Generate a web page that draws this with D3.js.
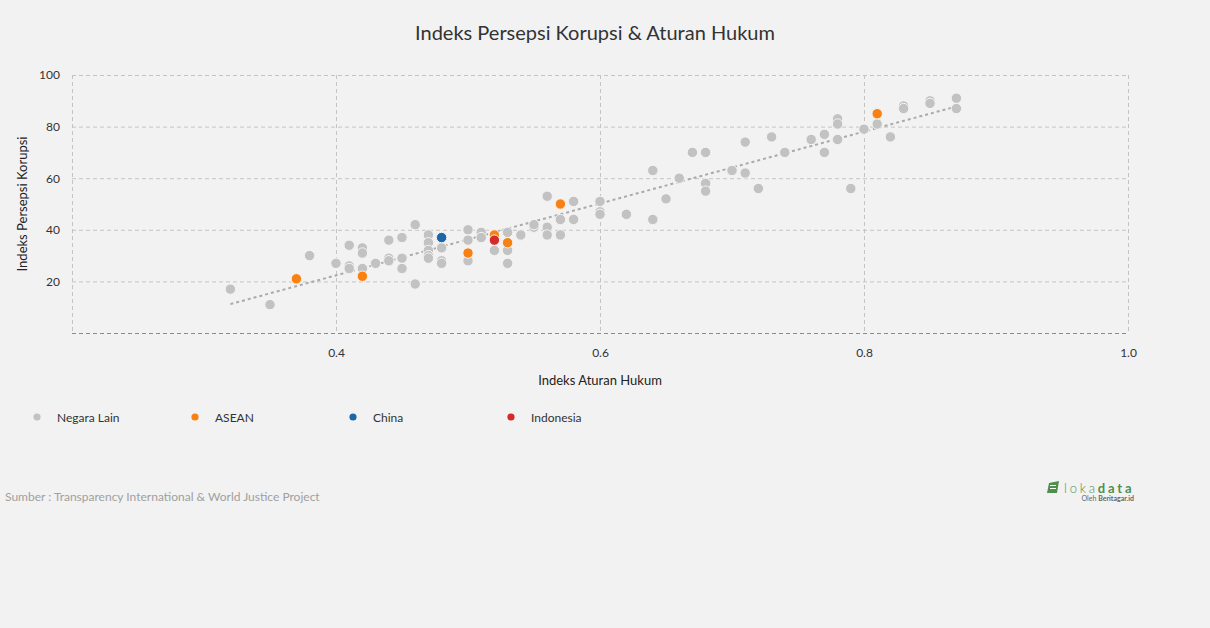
<!DOCTYPE html>
<html><head><meta charset="utf-8">
<script src="https://cdn.jsdelivr.net/npm/d3@7"></script>
<style>
html,body{margin:0;padding:0;background:#f2f2f2;}
svg{display:block;font-family:Lato,"Open Sans",sans-serif;}
</style></head>
<body>
<svg id="chart" width="1210" height="628"></svg>
<script>
// ---- data ----
const title = "Indeks Persepsi Korupsi & Aturan Hukum";
const xTitle = "Indeks Aturan Hukum";
const yTitle = "Indeks Persepsi Korupsi";
const xTicks = [0.4, 0.6, 0.8, 1.0];
const yTicks = [20, 40, 60, 80, 100];
const seriesNames = ["Negara Lain", "ASEAN", "China", "Indonesia"];
const seriesColors = ["#c2c2c2", "#f98012", "#1f66a6", "#d42a2a"];
// [Indeks Aturan Hukum, Indeks Persepsi Korupsi]
const negaraLain = [
  [0.32,17],[0.35,11],[0.38,30],[0.40,27],[0.41,34],[0.41,26],[0.41,25],
  [0.42,33],[0.42,31],[0.42,25],[0.43,27],[0.44,36],[0.44,29],[0.44,28],
  [0.45,37],[0.45,29],[0.45,25],[0.46,42],[0.46,19],[0.47,38],[0.47,35],
  [0.47,32],[0.47,30],[0.47,29],[0.48,33],[0.48,28],[0.48,27],[0.50,40],
  [0.50,36],[0.50,28],[0.51,39],[0.51,37],[0.52,32],[0.53,39],[0.53,32],
  [0.53,27],[0.54,38],[0.55,41],[0.55,42],[0.56,53],[0.56,41],[0.56,38],
  [0.57,44],[0.57,38],[0.58,51],[0.58,44],[0.60,51],[0.60,47],[0.60,46],
  [0.62,46],[0.64,63],[0.64,44],[0.65,52],[0.66,60],[0.67,70],[0.68,70],
  [0.68,58],[0.68,55],[0.70,63],[0.71,74],[0.71,62],[0.72,56],[0.73,76],
  [0.74,70],[0.76,75],[0.77,77],[0.77,70],[0.78,83],[0.78,81],[0.78,75],
  [0.79,56],[0.80,79],[0.81,81],[0.82,76],[0.83,88],[0.83,87],[0.85,90],
  [0.85,89],[0.87,91],[0.87,87]
];
const asean = [[0.37,21],[0.42,22],[0.50,31],[0.52,38],[0.53,35],[0.57,50],[0.81,85]];
const china = [[0.48,37]];
const indonesia = [[0.52,36]];
const trend = [[0.32,11.2],[0.87,87.8]];
const source = "Sumber : Transparency International & World Justice Project";

// ---- layout ----
const svg = d3.select("#chart");
const L = 72, R = 1128, T = 75, B = 333;
const x = d3.scaleLinear().domain([0.2, 1.0]).range([L, R]);
const y = d3.scaleLinear().domain([0, 100]).range([B, T]);

svg.append("text").attr("x", 595).attr("y", 40).attr("text-anchor", "middle")
  .attr("font-size", 20).attr("fill", "#333").text(title);

// grid
const g = svg.append("g");
g.selectAll(".hg").data(yTicks).join("line")
  .attr("x1", L).attr("x2", R).attr("y1", d => y(d) + 0.5).attr("y2", d => y(d) + 0.5)
  .attr("stroke", "#c4c4c4").attr("stroke-dasharray", "4,3");
g.selectAll(".vg").data([0.2].concat(xTicks)).join("line")
  .attr("y1", T).attr("y2", B).attr("x1", d => Math.round(x(d)) + 0.5).attr("x2", d => Math.round(x(d)) + 0.5)
  .attr("stroke", "#c4c4c4").attr("stroke-dasharray", "4,3");
g.append("line").attr("x1", L).attr("x2", R).attr("y1", B + 0.5).attr("y2", B + 0.5)
  .attr("stroke", "#8a8a8a").attr("stroke-dasharray", "4,3");

// axes labels via d3 axes
const xAxis = svg.append("g").attr("transform", `translate(0,${B})`)
  .call(d3.axisBottom(x).tickValues(xTicks).tickFormat(d3.format(".1f")).tickSize(0).tickPadding(15));
const yAxis = svg.append("g").attr("transform", `translate(${L},0)`)
  .call(d3.axisLeft(y).tickValues(yTicks).tickSize(0).tickPadding(12));
[xAxis, yAxis].forEach(a => {
  a.select(".domain").remove();
  a.selectAll("text").attr("font-family", "Lato, sans-serif").attr("font-size", 12).attr("fill", "#333");
});

svg.append("text").attr("x", 600).attr("y", 385).attr("text-anchor", "middle")
  .attr("font-size", 13).attr("fill", "#222").text(xTitle);
svg.append("text").attr("transform", "translate(27,204) rotate(-90)").attr("text-anchor", "middle")
  .attr("font-size", 13).attr("fill", "#222").text(yTitle);

// trend line
svg.append("path").datum(trend)
  .attr("d", d3.line().x(d => x(d[0])).y(d => y(d[1])))
  .attr("fill", "none").attr("stroke", "#aaaaaa").attr("stroke-width", 2).attr("stroke-dasharray", "3,3");

// points
const allSeries = [negaraLain, asean, china, indonesia];
allSeries.forEach((s, i) => {
  svg.append("g").selectAll("circle").data(s).join("circle")
    .attr("cx", d => x(d[0])).attr("cy", d => y(d[1])).attr("r", 5.2)
    .attr("fill", seriesColors[i]).attr("stroke", "#f4f4f4").attr("stroke-width", 1);
});

// legend
const lg = svg.append("g");
seriesNames.forEach((n, i) => {
  const lx = 37 + i * 158;
  lg.append("circle").attr("cx", lx).attr("cy", 417).attr("r", 3.6).attr("fill", seriesColors[i]);
  lg.append("text").attr("x", lx + 20).attr("y", 421.5).attr("font-size", 12).attr("fill", "#333").text(n);
});

// source
svg.append("text").attr("x", 5).attr("y", 501).attr("font-size", 12).attr("fill", "#a0a0a0").text(source);

// logo
const logo = svg.append("g").attr("transform", "translate(1047,481)");
logo.append("path").attr("d", "M2,2 L12,0 L10,12 L0,12 Z").attr("fill", "#4e8f4e");
logo.append("line").attr("x1", 3).attr("x2", 9).attr("y1", 4.5).attr("y2", 4.5).attr("stroke", "#fff").attr("stroke-width", 1);
logo.append("line").attr("x1", 3).attr("x2", 9).attr("y1", 7.5).attr("y2", 7.5).attr("stroke", "#fff").attr("stroke-width", 1);
const lt = logo.append("text").attr("x", 17).attr("y", 11.5).attr("font-size", 13).attr("fill", "#4e8f4e").attr("letter-spacing", 2.8);
lt.append("tspan").attr("font-weight", 300).text("loka");
lt.append("tspan").attr("font-weight", 700).text("data");
const sub = logo.append("text").attr("x", 87).attr("y", 20).attr("text-anchor", "end").attr("font-size", 7).attr("fill", "#666");
sub.append("tspan").text("Oleh ");
sub.append("tspan").attr("font-weight", 700).text("Beritagar.id");
</script>
</body></html>
